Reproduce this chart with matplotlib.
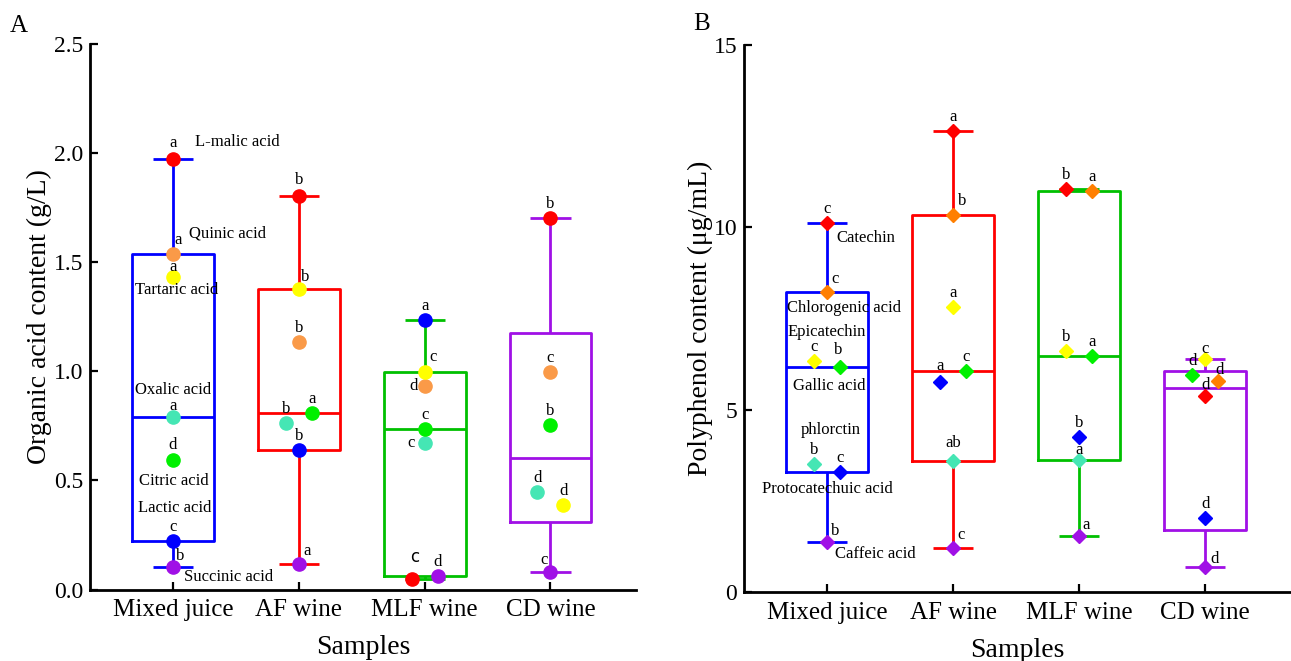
import numpy as np
import matplotlib
matplotlib.use("Agg")
import matplotlib.pyplot as plt

# ---------------- data ----------------
samples = ["Mixed juice", "AF wine", "MLF wine", "CD wine"]

# Panel A: organic acids (g/L), one value per sample (nan = not shown)
acids = ["L-malic acid", "Quinic acid", "Tartaric acid", "Oxalic acid",
         "Citric acid", "Lactic acid", "Succinic acid"]
malic = [1.973, 1.800, 0.046, 1.703]
quinic = [1.534, 1.132, 0.931, 0.997]
tartaric = [1.430, 1.378, 0.997, 0.386]
oxalic = [0.789, 0.763, 0.672, 0.447]
citric = [0.595, 0.809, 0.736, 0.755]
lactic = [0.221, 0.641, 1.233, np.nan]
succinic = [0.102, 0.118, 0.064, 0.081]
acid_values = [malic, quinic, tartaric, oxalic, citric, lactic, succinic]

malic_sig = ["a", "b", "c", "b"]
quinic_sig = ["a", "b", "d", "c"]
tartaric_sig = ["a", "b", "c", "d"]
oxalic_sig = ["a", "b", "c", "d"]
citric_sig = ["d", "a", "c", "b"]
lactic_sig = ["c", "b", "a", ""]
succinic_sig = ["b", "a", "d", "c"]
acid_letters = [malic_sig, quinic_sig, tartaric_sig, oxalic_sig,
                citric_sig, lactic_sig, succinic_sig]

# Panel B: polyphenols (ug/mL)
phenols = ["Catechin", "Chlorogenic acid", "Epicatechin", "Gallic acid",
           "phlorctin", "Protocatechuic acid", "Caffeic acid"]
catechin = [10.12, 12.65, 11.05, 5.38]
chlorogenic = [8.22, 10.34, 11.00, 5.79]
epicatechin = [6.33, 7.81, 6.61, 6.39]
gallic = [6.17, 6.05, 6.47, 5.96]
phlorctin = [3.29, 5.76, 4.25, 2.03]
protocatechuic = [3.52, 3.59, 3.63, np.nan]
caffeic = [1.38, 1.21, 1.53, 0.68]
phenol_values = [catechin, chlorogenic, epicatechin, gallic,
                 phlorctin, protocatechuic, caffeic]

catechin_sig = ["c", "a", "b", "d"]
chlorogenic_sig = ["c", "b", "a", "d"]
epicatechin_sig = ["c", "a", "b", "c"]
gallic_sig = ["b", "c", "a", "d"]
phlorctin_sig = ["c", "a", "b", "d"]
protocatechuic_sig = ["b", "ab", "a", ""]
caffeic_sig = ["b", "c", "a", "d"]
phenol_letters = [catechin_sig, chlorogenic_sig, epicatechin_sig, gallic_sig,
                  phlorctin_sig, protocatechuic_sig, caffeic_sig]

# ---------------- style / layout ----------------
plt.rcParams['font.family'] = ['Liberation Serif', 'DejaVu Serif']

acid_colors = ["#FF0000", "#FA9A48", "#FFFF00", "#45E6B4", "#00F000", "#0000FF", "#A010E6"]
phenol_colors = ["#FF0000", "#FF7F00", "#FFFF00", "#00F000", "#0000FF", "#45E6B4", "#A010E6"]
box_colors = ["#0000FF", "#FF0000", "#00C000", "#A010E6"]

# horizontal slot (-1, 0, +1) of each point inside its sample
acid_slots = [[0, 0, -1, 0], [0, 0, 0, 0], [0, 0, 0, 1], [0, -1, 0, -1],
              [0, 1, 0, 0], [0, 0, 0, 0], [0, 0, 1, 0]]
phenol_slots = [[0, 0, -1, 0], [0, 0, 1, 1], [-1, 0, -1, 0], [1, 1, 1, -1],
                [1, -1, 0, 0], [-1, 0, 0, 0], [0, 0, 0, 0]]
SLOT = 0.103

# letter offsets in pixels (dx, dy) where not default (0, 14)
acid_letter_off = {(0, 0): (0, 16), (1, 0): (5, 14), (2, 0): (0, 10), (3, 0): (0, 11),
                   (4, 0): (0, 15), (6, 0): (7, 11), (0, 1): (0, 16), (2, 1): (6, 12),
                   (6, 1): (8, 13), (2, 2): (8, 15), (1, 2): (-11, 0), (3, 2): (-14, 0),
                   (0, 2): (3, 22), (6, 3): (-6, 12)}
phenol_letter_off = {(1, 0): (8, 13), (3, 0): (-2, 17), (6, 0): (8, 11),
                     (1, 1): (9, 14), (6, 1): (8, 13), (5, 1): (0, 18), (4, 1): (0, 16),
                     (6, 2): (7, 11), (5, 2): (0, 10),
                     (2, 3): (0, 10), (6, 3): (9, 8), (1, 3): (1, 11), (0, 3): (0, 11)}
sans_letters_A = {(0, 2)}

acid_name_pos = [(1.51, 2.05), (1.43, 1.63), (1.03, 1.373), (1.0, 0.912),
                 (1.01, 0.499), (1.01, 0.374), (1.44, 0.056)]
phenol_name_pos = [(1.307, 9.71), (1.13, 7.78), (1.0, 7.13), (1.02, 5.66),
                   (1.03, 4.45), (1.0, 2.83), (1.38, 1.03)]

fig = plt.figure(figsize=(12.91, 6.61), dpi=100)
axA = fig.add_axes([90 / 1291, (661 - 589.5) / 661, 546 / 1291, 546 / 661])
axB = fig.add_axes([744 / 1291, (661 - 592) / 661, 547 / 1291, 547 / 661])


def draw_panel(ax, names, values, letters, colors, slots, marker, ms,
               name_pos, letter_off, sans_set=()):
    vals = np.array(values, dtype=float)
    for j in range(len(samples)):
        col = vals[:, j]
        col = col[~np.isnan(col)]
        q1, med, q3 = np.percentile(col, [25, 50, 75], method='weibull')
        st = dict(med=med, q1=q1, q3=q3, whislo=col.min(), whishi=col.max(), fliers=[])
        c = box_colors[j]
        lp = dict(color=c, lw=2.0, solid_capstyle='butt')
        ax.bxp([st], positions=[j + 1], widths=0.65, capwidths=0.32, showfliers=False,
               boxprops=dict(color=c, lw=2.0), whiskerprops=lp, capprops=lp,
               medianprops=lp, manage_ticks=False, zorder=2)
    for i, name in enumerate(names):
        for j in range(len(samples)):
            v = vals[i, j]
            if np.isnan(v):
                continue
            x = j + 1 + slots[i][j] * SLOT
            ax.plot([x], [v], marker=marker, ms=ms, color=colors[i], mec=colors[i],
                    ls='none', zorder=4, clip_on=False)
            dx, dy = letter_off.get((i, j), (0, 14))
            kw = {}
            if (i, j) in sans_set:
                kw['family'] = 'DejaVu Sans'
            ax.annotate(letters[i][j], (x, v), xytext=(dx, dy), textcoords='offset pixels',
                        ha='center', va='center', fontsize=12, zorder=5, **kw)
        px, py = name_pos[i]
        ax.text(px, py, name, ha='center', va='center', fontsize=12, zorder=5)

    ax.set_xlim(0.34, 4.68)
    ax.set_xticks(range(1, len(samples) + 1))
    ax.set_xticklabels(samples)
    for s in ['top', 'right']:
        ax.spines[s].set_visible(False)
    for s in ['left', 'bottom']:
        ax.spines[s].set_linewidth(2.0)
    ax.tick_params(direction='in', length=6, width=1.6, labelsize=17, pad=5)
    ax.tick_params(axis='x', labelsize=18, pad=7)
    ax.set_xlabel("Samples", fontsize=20, labelpad=10)


draw_panel(axA, acids, acid_values, acid_letters, acid_colors, acid_slots, 'o', 9.5,
           acid_name_pos, acid_letter_off, sans_letters_A)
axA.set_ylim(0, 2.5)
axA.set_yticks([0, 0.5, 1.0, 1.5, 2.0, 2.5])
axA.set_yticklabels(["0.0", "0.5", "1.0", "1.5", "2.0", "2.5"])
axA.set_ylabel("Organic acid content (g/L)", fontsize=20)
axA.yaxis.set_label_coords(-0.07, 0.5)

draw_panel(axB, phenols, phenol_values, phenol_letters, phenol_colors, phenol_slots, 'D', 6.8,
           phenol_name_pos, phenol_letter_off)
axB.set_ylim(0, 15)
axB.set_yticks([0, 5, 10, 15])
axB.set_ylabel("Polyphenol content (μg/mL)", fontsize=20)
axB.yaxis.set_label_coords(-0.056, 0.5)

fig.text(19 / 1291, 1 - 26 / 661, "A", fontsize=18, ha='center', va='center')
fig.text(702 / 1291, 1 - 24 / 661, "B", fontsize=18, ha='center', va='center')

fig.savefig("out.png", dpi=100)
